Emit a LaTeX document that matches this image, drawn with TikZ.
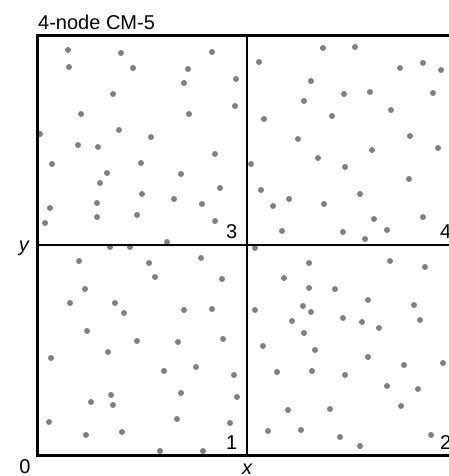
\documentclass[tikz,border=0pt]{standalone}
\usepackage{fontspec}
\setmainfont{Liberation Sans}

\tikzset{
  pt/.style={fill=black!50},
  frame/.style={line width=3pt},
  split/.style={line width=2pt},
  qlabel/.style={anchor=base west,inner sep=0pt}
}

\begin{document}
\begin{tikzpicture}[x=1pt,y=-1pt,font=\fontsize{20}{24}\selectfont]
\clip (0,0) rectangle (449,476);
% points, quadrant 3
\fill[pt] (68,50) circle (3) (121,53) circle (3) (212,52) circle (3) (69,67) circle (3)
  (133,68) circle (3) (188,69) circle (3) (236,79) circle (3) (184,83) circle (3)
  (113,94) circle (3) (235,106) circle (3) (81,114) circle (3) (189,114) circle (3)
  (40,134) circle (3) (119,130) circle (3) (151,137) circle (3) (78,145) circle (3)
  (98,147) circle (3) (215,154) circle (3) (52,164) circle (3) (141,163) circle (3)
  (107,173) circle (3) (181,174) circle (3) (100,183) circle (3) (220,188) circle (3)
  (142,194) circle (3) (174,199) circle (3) (97,203) circle (3) (202,204) circle (3)
  (50,208) circle (3) (97,217) circle (3) (137,215) circle (3) (45,223) circle (3)
  (215,221) circle (3) (167,242) circle (3);
% points, quadrant 4
\fill[pt] (323,48) circle (3) (355,47) circle (3) (259,62) circle (3) (400,68) circle (3)
  (423,63) circle (3) (441,70) circle (3) (311,81) circle (3) (344,94) circle (3)
  (370,92) circle (3) (433,93) circle (3) (304,101) circle (3) (391,110) circle (3)
  (332,116) circle (3) (264,119) circle (3) (298,139) circle (3) (410,136) circle (3)
  (438,148) circle (3) (372,150) circle (3) (318,158) circle (3) (251,164) circle (3)
  (345,167) circle (3) (409,179) circle (3) (261,190) circle (3) (360,194) circle (3)
  (289,199) circle (3) (273,206) circle (3) (324,204) circle (3) (374,219) circle (3)
  (423,217) circle (3) (282,231) circle (3) (343,232) circle (3) (387,230) circle (3)
  (365,239) circle (3);
% points, quadrant 1
\fill[pt] (110,247) circle (3) (130,247) circle (3) (79,261) circle (3) (149,263) circle (3)
  (201,258) circle (3) (155,277) circle (3) (222,279) circle (3) (85,289) circle (3)
  (70,303) circle (3) (115,303) circle (3) (124,313) circle (3) (184,310) circle (3)
  (212,309) circle (3) (87,331) circle (3) (137,341) circle (3) (178,342) circle (3)
  (223,339) circle (3) (108,352) circle (3) (51,358) circle (3) (164,371) circle (3)
  (196,367) circle (3) (234,375) circle (3) (111,395) circle (3) (181,393) circle (3)
  (91,402) circle (3) (113,405) circle (3) (237,397) circle (3) (49,422) circle (3)
  (177,419) circle (3) (230,423) circle (3) (86,435) circle (3) (122,432) circle (3)
  (160,451) circle (3) (203,451) circle (3);
% points, quadrant 2
\fill[pt] (255,248) circle (3) (309,263) circle (3) (390,261) circle (3) (425,267) circle (3)
  (284,278) circle (3) (309,288) circle (3) (335,289) circle (3) (368,300) circle (3)
  (255,310) circle (3) (303,306) circle (3) (311,312) circle (3) (414,305) circle (3)
  (292,321) circle (3) (343,318) circle (3) (362,322) circle (3) (379,328) circle (3)
  (420,320) circle (3) (304,333) circle (3) (263,346) circle (3) (315,350) circle (3)
  (368,357) circle (3) (404,365) circle (3) (443,363) circle (3) (277,372) circle (3)
  (312,371) circle (3) (345,375) circle (3) (387,386) circle (3) (418,389) circle (3)
  (288,410) circle (3) (330,409) circle (3) (401,406) circle (3) (268,431) circle (3)
  (301,430) circle (3) (340,437) circle (3) (431,435) circle (3) (360,446) circle (3);
% grid
\draw[split] (247,36) -- (247,455);
\draw[split] (37,245) -- (457,245);
\draw[frame] (37,36) rectangle (457,455);
\node[qlabel] (q3) at (226,238) {3};
\node[qlabel] (q4) at (440,238) {4};
\node[qlabel] (q1) at (226,449) {1};
\node[qlabel] (q2) at (440,449) {2};
\node[anchor=base west,inner sep=0pt] (title) at (38,30) {4-node CM-5};
\node[anchor=base,inner sep=0pt] (orig) at (25,473) {0};
\node[anchor=base,inner sep=0pt] (xlab) at (247,474) {\itshape x};
\node[anchor=base east,inner sep=0pt] (ylab) at (29,251) {\itshape y};
\end{tikzpicture}
\end{document}
